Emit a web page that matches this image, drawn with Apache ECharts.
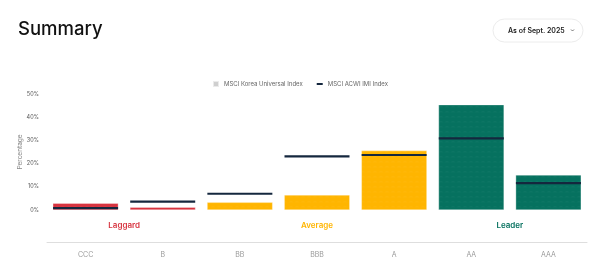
<!DOCTYPE html>
<html>
<head>
<meta charset="utf-8">
<script src="https://cdn.jsdelivr.net/npm/echarts@6/dist/echarts.min.js"></script>
<style>
html,body{margin:0;padding:0;background:#fff;}
#c{width:600px;height:273px;}
</style>
</head>
<body>
<div id="c"></div>
<script>
var categories = ['CCC', 'B', 'BB', 'BBB', 'A', 'AA', 'AAA'];
var koreaValues = [2.9, 1.2, 3.3, 6.5, 25.6, 45.4, 15.1];
var acwiValues = [0.8, 3.6, 7.0, 23.1, 23.7, 30.9, 11.6];
var barColors = ['#d7333f', '#d7333f', '#ffb500', '#ffb500', '#ffb500', '#06715f', '#06715f'];
var groupNames = ['Laggard', 'Average', 'Leader'];
var groupPositions = [1, 3.5, 6];
var groupColors = ['#d7333f', '#ffb500', '#06715f'];
var yTicks = [0, 10, 20, 30, 40, 50];

var chart = echarts.init(document.getElementById('c'), null, {renderer: 'canvas'});

var font = 'Inter, "Noto Sans", sans-serif';
var rich = {};
groupNames.forEach(function (n, i) {
  rich['g' + i] = {color: groupColors[i], fontSize: 8, fontWeight: 600, fontFamily: font};
});

var decal = {
  symbol: 'path://M0,4 L6,0 L12,4 L18,0 L24,4',
  symbolSize: 1,
  color: 'rgba(255,255,255,0.035)',
  dashArrayX: [12, 0],
  dashArrayY: [3, 2],
  rotation: 0
};

chart.setOption({
  animation: false,
  backgroundColor: '#ffffff',
  textStyle: {fontFamily: font},
  title: {
    text: 'Summary',
    left: 18,
    top: 20,
    padding: 0,
    textStyle: {fontSize: 18.5, fontWeight: 500, color: '#111111', fontFamily: font}
  },
  graphic: [
    {
      type: 'rect',
      shape: {x: 493, y: 19, width: 90, height: 23, r: 11.5},
      style: {fill: '#ffffff', stroke: '#ececec', lineWidth: 1}
    },
    {
      type: 'text',
      x: 508, y: 30.5,
      style: {text: 'As of Sept. 2025', fontSize: 7, fontWeight: 600, fill: '#222', fontFamily: font, verticalAlign: 'middle'}
    },
    {
      type: 'polyline',
      shape: {points: [[571, 29.5], [572.5, 31], [574, 29.5]]},
      style: {stroke: '#555', lineWidth: 0.8, fill: null}
    }
  ],
  legend: {
    top: 75,
    left: 'center',
    itemGap: 14,
    itemWidth: 6,
    itemHeight: 6,
    textStyle: {fontSize: 6, color: '#666', fontFamily: font},
    data: [
      {name: 'MSCI Korea Universal Index', icon: 'rect', itemStyle: {color: '#cfcfcf'}},
      {name: 'MSCI ACWI IMI Index', icon: 'path://M0,0 L6,0 L6,2 L0,2 Z', itemStyle: {color: '#14273e'}}
    ]
  },
  grid: {left: 47, right: 13, top: 94, bottom: 63},
  xAxis: [
    {
      type: 'category',
      data: categories,
      offset: 32,
      axisLine: {onZero: false, lineStyle: {color: '#dedede', width: 1}},
      axisTick: {show: false},
      axisLabel: {fontSize: 7, color: '#999', margin: 9, fontFamily: font}
    },
    {
      type: 'value',
      min: 0,
      max: categories.length,
      interval: 0.5,
      position: 'bottom',
      axisLine: {show: false},
      axisTick: {show: false},
      splitLine: {show: false},
      axisLabel: {
        margin: 12,
        showMinLabel: true,
        showMaxLabel: true,
        formatter: function (v) {
          var i = groupPositions.indexOf(v);
          return i >= 0 ? '{g' + i + '|' + groupNames[i] + '}' : '';
        },
        rich: rich
      }
    }
  ],
  yAxis: {
    type: 'value',
    min: yTicks[0],
    max: yTicks[yTicks.length - 1],
    interval: 10,
    name: 'Percentage',
    nameLocation: 'middle',
    nameGap: 23,
    nameMoveOverlap: false,
    nameTextStyle: {fontSize: 6.5, color: '#888', fontFamily: font},
    axisLine: {show: false},
    axisTick: {show: false},
    splitLine: {show: false},
    axisLabel: {fontSize: 5.5, color: '#555', margin: 8, formatter: '{value}%', fontFamily: font}
  },
  series: [
    {
      name: 'MSCI Korea Universal Index',
      type: 'bar',
      xAxisIndex: 0,
      barCategoryGap: '15%',
      itemStyle: {color: '#cfcfcf', borderColor: 'rgba(255,255,255,0.35)', borderWidth: 0.5, decal: decal},
      data: koreaValues.map(function (v, i) {
        return {value: v, itemStyle: {color: barColors[i]}};
      })
    },
    {
      name: 'MSCI ACWI IMI Index',
      type: 'scatter',
      xAxisIndex: 0,
      symbol: 'rect',
      symbolSize: [65, 2.2],
      itemStyle: {color: '#14273e', opacity: 1},
      z: 5,
      data: acwiValues
    }
  ]
});
</script>
</body>
</html>
